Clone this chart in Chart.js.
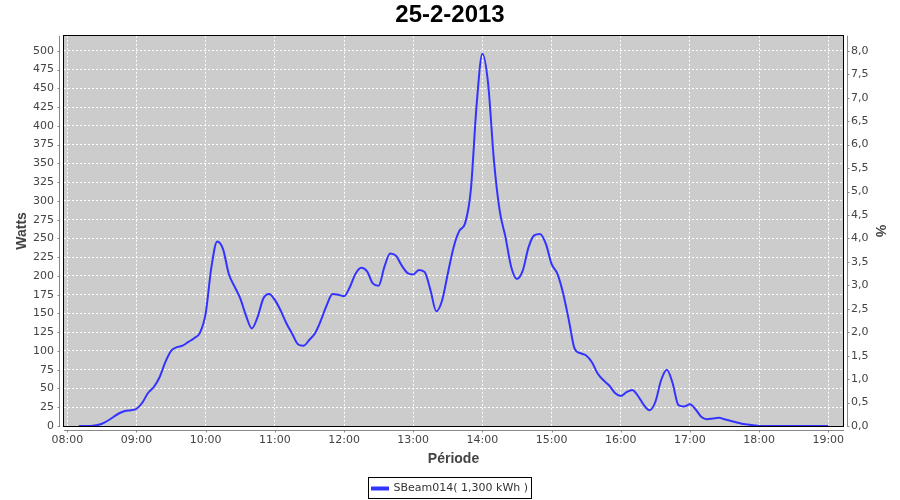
<!DOCTYPE html>
<html>
<head>
<meta charset="utf-8">
<script src="https://cdn.jsdelivr.net/npm/chart.js@4"></script>
<style>
  html, body { margin: 0; padding: 0; background: #fff; }
</style>
</head>
<body>
<canvas id="powerChart" width="900" height="500"></canvas>
<script>
const chartTitle = "25-2-2013";
const seriesName = "SBeam014( 1,300 kWh )";

// 5 minute samples
const times = [
  "08:10","08:15","08:20","08:25","08:30","08:35","08:40","08:45","08:50","08:55",
  "09:00","09:05","09:10","09:15","09:20","09:25","09:30","09:35","09:40","09:45","09:50","09:55",
  "10:00","10:05","10:10","10:15","10:20","10:25","10:30","10:35","10:40","10:45","10:50","10:55",
  "11:00","11:05","11:10","11:15","11:20","11:25","11:30","11:35","11:40","11:45","11:50","11:55",
  "12:00","12:05","12:10","12:15","12:20","12:25","12:30","12:35","12:40","12:45","12:50","12:55",
  "13:00","13:05","13:10","13:15","13:20","13:25","13:30","13:35","13:40","13:45","13:50","13:55",
  "14:00","14:05","14:10","14:15","14:20","14:25","14:30","14:35","14:40","14:45","14:50","14:55",
  "15:00","15:05","15:10","15:15","15:20","15:25","15:30","15:35","15:40","15:45","15:50","15:55",
  "16:00","16:05","16:10","16:15","16:20","16:25","16:30","16:35","16:40","16:45","16:50","16:55",
  "17:00","17:05","17:10","17:15","17:20","17:25","17:30","17:35","17:40","17:45","17:50","17:55",
  "18:00","18:05","18:10","18:15","18:20","18:25","18:30","18:35","18:40","18:45","18:50","18:55",
  "19:00"
];
const watts = [
  0, 0, 0, 1, 3, 7, 12, 17, 20, 21,
  23, 31, 44, 52, 65, 85, 100, 105, 107, 112, 117, 124,
  150, 212, 246, 236, 203, 186, 170, 147, 130, 145, 170, 176,
  168, 154, 137, 123, 109, 107, 115, 124, 141, 161, 176, 175,
  173, 185, 203, 211, 206, 190, 187, 212, 230, 227, 214, 204,
  202, 208, 205, 181, 153, 167, 203, 238, 260, 270, 315, 428,
  496, 456, 354, 287, 252, 212, 196, 207, 238, 254, 256, 243,
  216, 203, 177, 141, 103, 97, 94, 85, 70, 61, 54, 44,
  40, 45, 48, 40, 28, 21, 32, 61, 75, 57, 28, 26,
  29, 22, 12, 9, 10, 11, 9, 7, 5, 3, 2, 1,
  0, 0, 0, 0, 0, 0, 0, 0, 0, 0, 0, 0,
  0
];

const hourTicks = [8, 9, 10, 11, 12, 13, 14, 15, 16, 17, 18, 19];
const hourLabels = ["08:00","09:00","10:00","11:00","12:00","13:00","14:00","15:00","16:00","17:00","18:00","19:00"];
const wattTicks = [0, 25, 50, 75, 100, 125, 150, 175, 200, 225, 250, 275, 300, 325, 350, 375, 400, 425, 450, 475, 500];
const percentTicks = [0, 0.5, 1, 1.5, 2, 2.5, 3, 3.5, 4, 4.5, 5, 5.5, 6, 6.5, 7, 7.5, 8];

const wattMax = 520;
const percentPerWatt = 0.016;

function toHours(s) {
  const [h, m] = s.split(":").map(Number);
  return h + m / 60;
}

const points = times.map((t, i) => ({ x: toHours(t), y: watts[i] }));

const tickFont = { family: "DejaVu Sans", size: 11 };
const axisTitleFont = { family: "Liberation Sans", size: 14, weight: "bold" };
const grey = "#444444";

// grey plot background, black frame and the offset axis lines with ticks
const framePlugin = {
  id: "frame",
  beforeDraw(chart) {
    const { ctx, chartArea: a } = chart;
    ctx.save();
    ctx.fillStyle = "#cccccc";
    ctx.fillRect(a.left, a.top, a.right - a.left, a.bottom - a.top);
    ctx.restore();
  },
  afterDraw(chart) {
    const { ctx, chartArea: a, scales } = chart;
    ctx.save();
    ctx.lineWidth = 1;
    ctx.strokeStyle = "#000";
    ctx.strokeRect(Math.round(a.left) - 0.5, Math.round(a.top) - 0.5,
      Math.round(a.right - a.left) + 1, Math.round(a.bottom - a.top) + 1);

    ctx.strokeStyle = "#888";
    ctx.beginPath();
    const lx = Math.round(a.left) - 4.5;
    const rx = Math.round(a.right) + 4.5;
    const by = Math.round(a.bottom) + 4.5;
    ctx.moveTo(lx, a.top); ctx.lineTo(lx, a.bottom + 1);
    ctx.moveTo(rx, a.top); ctx.lineTo(rx, a.bottom + 1);
    ctx.moveTo(a.left, by); ctx.lineTo(a.right + 1, by);
    scales.y.ticks.forEach(t => {
      const py = Math.round(scales.y.getPixelForValue(t.value)) + 0.5;
      ctx.moveTo(lx - 2, py); ctx.lineTo(lx, py);
    });
    scales.y1.ticks.forEach(t => {
      const py = Math.round(scales.y1.getPixelForValue(t.value)) + 0.5;
      ctx.moveTo(rx, py); ctx.lineTo(rx + 2, py);
    });
    scales.x.ticks.forEach(t => {
      const px = Math.round(scales.x.getPixelForValue(t.value)) + 0.5;
      ctx.moveTo(px, by); ctx.lineTo(px, by + 2);
    });
    ctx.stroke();

    // box round the legend
    const box = chart.legend.legendHitBoxes[0];
    if (box) {
      ctx.strokeStyle = "#000";
      ctx.strokeRect(Math.round(box.left) - 3.5, Math.round(box.top) - 5.5,
        Math.round(box.width) + 7, Math.round(box.height) + 10);
    }
    ctx.restore();
  }
};

const ctx = document.getElementById("powerChart").getContext("2d");
window.myChart = new Chart(ctx, {
  type: "line",
  data: {
    datasets: [{
      label: seriesName,
      data: points,
      borderColor: "rgb(51,51,255)",
      backgroundColor: "rgb(51,51,255)",
      borderWidth: 2,
      pointRadius: 0,
      fill: false,
      cubicInterpolationMode: "monotone",
      yAxisID: "y"
    }]
  },
  options: {
    responsive: false,
    animation: false,
    layout: { padding: { top: 1, bottom: -4 } },
    plugins: {
      title: {
        display: true,
        text: chartTitle,
        color: "#000",
        font: { family: "Liberation Sans", size: 24, weight: "bold" },
        padding: { top: 0, bottom: 6 }
      },
      legend: {
        position: "bottom",
        labels: {
          color: "#333",
          font: tickFont,
          boxWidth: 16,
          boxHeight: 2,
          padding: 10
        }
      },
      tooltip: { enabled: false }
    },
    scales: {
      x: {
        type: "linear",
        min: 7.952,
        max: 19.213,
        afterBuildTicks: s => { s.ticks = hourTicks.map(v => ({ value: v })); },
        afterFit: s => { s.height = 47; },
        ticks: {
          color: grey,
          font: tickFont,
          padding: 8,
          maxRotation: 0,
          callback: (v, i) => hourLabels[i]
        },
        grid: { color: "#fff", lineWidth: 1, drawTicks: false },
        border: { display: false, dash: [2, 2] },
        title: { display: true, text: "Période", color: grey, font: axisTitleFont, padding: 5 }
      },
      y: {
        position: "left",
        min: 0,
        max: wattMax,
        afterBuildTicks: s => { s.ticks = wattTicks.map(v => ({ value: v })); },
        afterFit: s => { s.width = 64; },
        ticks: { color: grey, font: tickFont, padding: 10 },
        grid: { color: "#fff", lineWidth: 1, drawTicks: false },
        border: { display: false, dash: [2, 2] },
        title: { display: true, text: "Watts", color: grey, font: axisTitleFont, padding: 14 }
      },
      y1: {
        position: "right",
        min: 0,
        max: wattMax * percentPerWatt,
        afterBuildTicks: s => { s.ticks = percentTicks.map(v => ({ value: v })); },
        afterFit: s => { s.width = 57; },
        ticks: {
          color: grey,
          font: tickFont,
          padding: 8,
          callback: v => v.toFixed(1).replace(".", ",")
        },
        grid: { display: false, drawTicks: false },
        border: { display: false },
        title: { display: true, text: "%", color: grey, font: axisTitleFont, padding: 12 }
      }
    }
  },
  plugins: [framePlugin]
});
</script>
</body>
</html>
